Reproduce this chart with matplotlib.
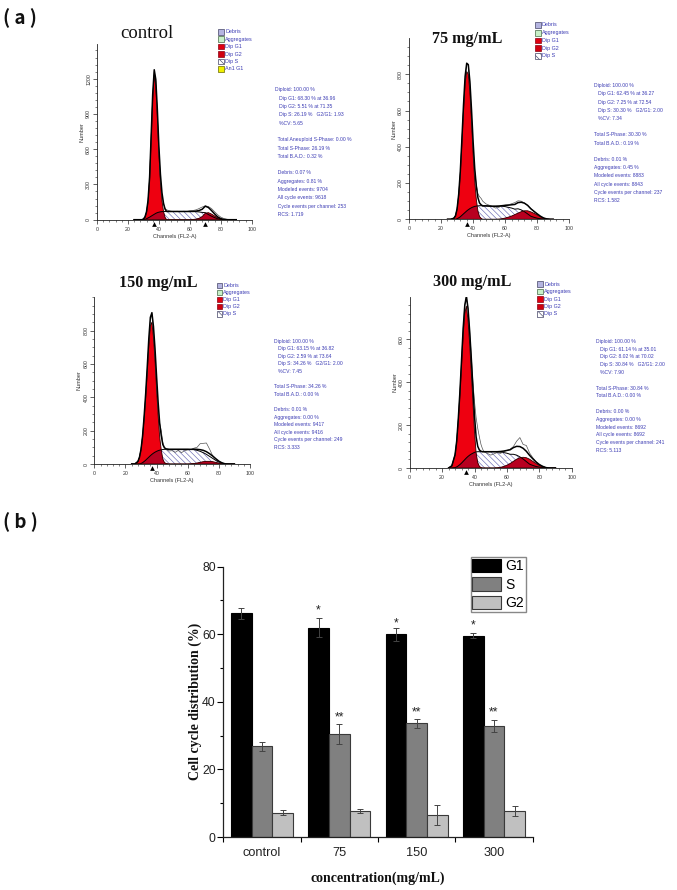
import matplotlib
matplotlib.use("Agg")
import matplotlib.pyplot as plt
import numpy as np

W, H = 677, 890
plt.rcParams['font.family'] = ['Liberation Sans', 'DejaVu Sans']
plt.rcParams['hatch.linewidth'] = 0.45

# ---------- DATA ----------
channels = [24, 26, 28] + list(range(29, 47)) + list(range(48, 91, 2))

ctrl_g1 = [0,0,0,0,5,20,60,150,340,680,1030,1230,1140,880,560,320,160,70,20,0,0] + [0]*22
ctrl_s = [0,0,0,0,0,3,8,15,22,30,38,46,54,60,64,67,69,70,70,70,70,
          70,70,70,70,70,70,70,69,68,66,62,60,44,30,18,8,3,0,0,0,0,0]
ctrl_g2 = [0]*21 + [0,0,0,0,0,0,0,2,5,12,27,55,60,48,32,16,6,2,0,0,0,0]
ctrl_raw = [0,0,0,0,8,25,65,160,350,700,1050,1260,1180,900,590,350,200,130,95,85,78,
            72,70,72,68,72,70,76,78,84,95,108,118,112,95,68,42,22,10,4,1,0,0]

d75_g1 = [0,0,6,19,55,130,250,420,600,750,815,800,700,540,360,210,110,45,15,5,0] + [0]*22
d75_s = [0,0,0,0,3,8,14,22,30,38,46,53,59,64,68,71,73,74,75,75,74,
         74,73,72,72,72,72,70,66,62,56,58,52,42,30,17,11,6,3,1,0,0,0]
d75_g2 = [0]*21 + [0,0,0,0,1,3,7,12,18,26,34,42,47,47,41,33,24,14,6,2,0,0]
d75_raw = [0,0,8,22,58,135,255,430,615,770,860,850,740,575,395,265,190,140,125,115,100,
           85,78,70,62,66,74,78,80,86,92,102,100,90,76,60,42,28,16,7,2,0,0]

d150_g1 = [0,0,15,40,85,160,270,400,550,710,830,850,760,620,450,290,160,85,30,10,3] + [0]*22
d150_s = [0,0,0,0,3,8,15,23,32,41,50,58,65,71,76,80,83,85,87,88,88,
          88,88,88,88,88,88,88,87,86,82,76,68,58,46,34,22,12,5,1,0,0,0]
d150_g2 = [0]*21 + [0,0,0,0,0,0,0,1,3,6,10,14,16,16,14,10,5,2,0,0,0,0]
d150_raw = [0,0,16,42,90,170,280,410,565,730,860,900,800,650,480,330,245,200,130,100,88,
            78,80,70,82,68,80,85,86,95,100,122,124,126,90,50,30,16,6,2,0,0,0]

d300_g1 = [0,10,60,120,220,340,480,620,720,755,690,580,450,310,170,70,25,8,2,0,0] + [0]*22
d300_s = [0,0,2,5,10,16,23,31,39,47,54,60,65,69,73,75,76,76,76,76,76,
          76,76,76,75,74,72,69,64,64,60,52,42,30,18,12,7,4,2,0,0,0,0]
d300_g2 = [0]*21 + [0,0,0,1,3,7,13,21,31,41,48,50,48,41,31,21,12,6,2,0,0,0]
d300_raw = [0,12,64,126,230,355,500,650,760,795,745,640,525,405,310,235,185,145,110,88,75,
            68,60,66,72,68,76,82,88,100,125,142,110,105,70,48,30,17,8,3,0,0,0]

ctrl_text = ["Diploid: 100.00 %", "   Dip G1: 68.30 % at 36.96", "   Dip G2: 5.51 % at 71.35",
             "   Dip S: 26.19 %   G2/G1: 1.93", "   %CV: 5.65", "",
             "  Total Aneuploid S-Phase: 0.00 %", "  Total S-Phase: 26.19 %", "  Total B.A.D.: 0.32 %", "",
             "  Debris: 0.07 %", "  Aggregates: 0.81 %", "  Modeled events: 9704", "  All cycle events: 9618",
             "  Cycle events per channel: 253", "  RCS: 1.719"]
d75_text = ["Diploid: 100.00 %", "   Dip G1: 62.45 % at 36.27", "   Dip G2: 7.25 % at 72.54",
            "   Dip S: 30.30 %   G2/G1: 2.00", "   %CV: 7.34", "",
            "Total S-Phase: 30.30 %", "Total B.A.D.: 0.19 %", "",
            "Debris: 0.01 %", "Aggregates: 0.45 %", "Modeled events: 8883", "All cycle events: 8843",
            "Cycle events per channel: 237", "RCS: 1.582"]
d150_text = ["Diploid: 100.00 %", "   Dip G1: 63.15 % at 36.82", "   Dip G2: 2.59 % at 73.64",
             "   Dip S: 34.26 %   G2/G1: 2.00", "   %CV: 7.45", "",
             "Total S-Phase: 34.26 %", "Total B.A.D.: 0.00 %", "",
             "Debris: 0.01 %", "Aggregates: 0.00 %", "Modeled events: 9417", "All cycle events: 9416",
             "Cycle events per channel: 249", "RCS: 3.333"]
d300_text = ["Diploid: 100.00 %", "   Dip G1: 61.14 % at 35.01", "   Dip G2: 8.02 % at 70.02",
             "   Dip S: 30.84 %   G2/G1: 2.00", "   %CV: 7.90", "",
             "Total S-Phase: 30.84 %", "Total B.A.D.: 0.00 %", "",
             "Debris: 0.00 %", "Aggregates: 0.00 %", "Modeled events: 8692", "All cycle events: 8692",
             "Cycle events per channel: 241", "RCS: 5.113"]

legend_base = ["Debris", "Aggregates", "Dip G1", "Dip G2", "Dip S"]
legend_ctrl = legend_base + ["An1 G1"]

categories = ["control", "75", "150", "300"]
g1_vals = [66.2, 62.0, 60.0, 59.6]
s_vals = [26.8, 30.4, 33.6, 32.9]
g2_vals = [7.2, 7.6, 6.6, 7.6]
g1_err = [1.7, 2.8, 1.9, 0.8]
s_err = [1.2, 3.0, 1.2, 1.8]
g2_err = [0.7, 0.6, 3.0, 1.5]
star_g1_y = [67.0, 63.3, 62.6]
star_s_y = [35.4, 36.9, 36.9]

# ---------- LAYOUT ----------
fig = plt.figure(figsize=(W / 100, H / 100), dpi=100, facecolor='white')
BLUE = '#3c3cb4'
SERIF = ['Liberation Serif', 'DejaVu Serif']


def px_axes(x0, x1, y_top, y_bot):
    return fig.add_axes([x0 / W, 1 - y_bot / H, (x1 - x0) / W, (y_bot - y_top) / H])


def ftext(x, y, s, **kw):
    return fig.text(x / W, 1 - y / H, s, **kw)


panels = [
    dict(box=(97, 251.7, 44, 219.7), ymax=1495, yt=[0, 300, 600, 900, 1200], ym=60,
         g1=ctrl_g1, s=ctrl_s, g2=ctrl_g2, raw=ctrl_raw, marks=[37, 70],
         title="control", tx=147, ty=34, tw='normal', ts=13.5,
         text=ctrl_text, tpos=(275, 90, 8.3), leg=legend_ctrl,
         lpos=(218, 225.3, 31.7, 7.45)),
    dict(box=(409, 569.3, 38, 219.3), ymax=1000, yt=[0, 200, 400, 600, 800], ym=50,
         g1=d75_g1, s=d75_s, g2=d75_g2, raw=d75_raw, marks=[36.3],
         title="75 mg/mL", tx=467, ty=39, tw='bold', ts=11.6,
         text=d75_text, tpos=(594, 85.7, 8.2), leg=legend_base,
         lpos=(535, 542, 25, 7.75)),
    dict(box=(94.3, 250, 297, 464), ymax=1002, yt=[0, 200, 400, 600, 800], ym=50,
         g1=d150_g1, s=d150_s, g2=d150_g2, raw=d150_raw, marks=[36.8],
         title="150 mg/mL", tx=158, ty=283, tw='bold', ts=11.6,
         text=d150_text, tpos=(273.7, 341, 7.6), leg=legend_base,
         lpos=(216.7, 223.3, 285.3, 7.1)),
    dict(box=(409.7, 571.7, 296.7, 468), ymax=799, yt=[0, 200, 400, 600], ym=40,
         g1=d300_g1, s=d300_s, g2=d300_g2, raw=d300_raw, marks=[35],
         title="300 mg/mL", tx=472, ty=282, tw='bold', ts=11.6,
         text=d300_text, tpos=(596, 341.3, 7.8), leg=legend_base,
         lpos=(537, 544.3, 284.3, 7.35)),
]

legend_styles = {
    "Debris": dict(facecolor='#b4b4e0', edgecolor='#444466'),
    "Aggregates": dict(facecolor='#c8f0c8', edgecolor='#446644'),
    "Dip G1": dict(facecolor='#e00010', edgecolor='#880010'),
    "Dip G2": dict(facecolor='#d00010', edgecolor='#880010'),
    "Dip S": dict(facecolor='white', edgecolor='#444466', hatch='\\\\\\\\\\'),
    "An1 G1": dict(facecolor='#f0f000', edgecolor='#666600'),
}

for p in panels:
    x0, x1, yt, yb = p['box']
    ax = px_axes(x0, x1, yt, yb)
    ax.patch.set_alpha(0)
    x = np.array(channels, float)
    g1, s, g2, raw = (np.array(p[k], float) for k in ('g1', 's', 'g2', 'raw'))
    total = g1 + s + g2
    ax.fill_between(x, 0, s, facecolor='white', edgecolor='#6a6ab4', hatch='\\\\\\\\\\\\', lw=0)
    ax.fill_between(x, 0, g1, facecolor='#ee0010', lw=0)
    ax.fill_between(x, 0, g2, facecolor='#d80018', lw=0)
    ax.fill_between(x, 0, np.minimum(g1, s), facecolor='#b80020', lw=0)
    ax.fill_between(x, 0, np.minimum(g2, s), facecolor='#b80020', lw=0)
    ax.plot(x, s, color='black', lw=0.7)
    ax.plot(x, g1, color='#300000', lw=0.6)
    ax.plot(x, g2, color='#300000', lw=0.6)
    ax.plot(x, raw, color='#555555', lw=0.5)
    ax.plot(x, total, color='black', lw=1.1)
    ax.set_xlim(0, 100)
    ax.set_ylim(0, p['ymax'])
    for sp in ('top', 'right'):
        ax.spines[sp].set_visible(False)
    for sp in ('left', 'bottom'):
        ax.spines[sp].set_linewidth(0.6)
        ax.spines[sp].set_color('#222222')
    ax.set_xticks(range(0, 101, 20))
    ax.set_xticks(range(0, 101, 4), minor=True)
    ax.set_yticks(p['yt'])
    ax.set_yticks(np.arange(0, p['ymax'], p['ym']), minor=True)
    ax.tick_params(axis='x', which='major', length=3, width=0.5, labelsize=3.8,
                   pad=2, labelcolor='#333333', color='#222222')
    ax.tick_params(axis='y', which='major', length=3, width=0.5, labelsize=3.8,
                   pad=1.2, labelcolor='#333333', color='#222222')
    ax.tick_params(axis='both', which='minor', length=1.5, width=0.4, color='#222222')
    for lab in ax.get_yticklabels():
        lab.set_rotation(90)
        lab.set_va('center')
    width, height = x1 - x0, yb - yt
    ax.set_xlabel("Channels (FL2-A)", fontsize=4, color='#333333', labelpad=1.5)
    ax.set_ylabel("Number", fontsize=4, color='#333333')
    ax.yaxis.set_label_coords(-12.5 / width, 0.5)
    ax.plot(p['marks'], [-4.2 / height] * len(p['marks']), '^', color='black', ms=3.4, mew=0,
            transform=ax.get_xaxis_transform(), clip_on=False)

    ftext(p['tx'], p['ty'], p['title'], family=SERIF, fontsize=p['ts'], fontweight=p['tw'],
          ha='center', va='center', color='#111111')

    tx, ty, lh = p['tpos']
    for i, line in enumerate(p['text']):
        if line:
            ftext(tx, ty + i * lh, line, fontsize=3.6, color=BLUE, va='center', ha='left')

    bx, lx, ly, ls = p['lpos']
    for i, name in enumerate(p['leg']):
        yc = ly + i * ls
        rect = plt.Rectangle((bx / W, 1 - (yc + 2.8) / H), 5.6 / W, 5.6 / H,
                             transform=fig.transFigure, lw=0.5, **legend_styles[name])
        fig.add_artist(rect)
        ftext(lx, yc, name, fontsize=3.9, color=BLUE, va='center', ha='left')

# panel letters
LETTER = ['Noto Sans CJK SC', 'DejaVu Sans']
ftext(3, 18, "( a )", family=LETTER, fontsize=13.5, fontweight='bold',
      va='center', ha='left', color='#111111')
ftext(3, 522, "( b )", family=LETTER, fontsize=13.5, fontweight='bold',
      va='center', ha='left', color='#111111')

# ---------- BAR CHART ----------
ax = px_axes(223.3, 532.7, 566.7, 837)
ax.patch.set_alpha(0)
idx = np.arange(len(categories))
bw = 0.267
ekw = dict(ecolor='#444444', elinewidth=0.7, capsize=2.2, capthick=0.7)
edge = '#3a3a3a'
ax.bar(idx - bw, g1_vals, bw, yerr=g1_err, color='black', edgecolor='black', lw=0.8, label='G1', error_kw=ekw)
ax.bar(idx, s_vals, bw, yerr=s_err, color='#808080', edgecolor=edge, lw=0.8, label='S', error_kw=ekw)
ax.bar(idx + bw, g2_vals, bw, yerr=g2_err, color='#c0c0c0', edgecolor=edge, lw=0.8, label='G2', error_kw=ekw)

ax.set_xlim(-0.5, 3.5)
ax.set_ylim(0, 80)
for sp in ('top', 'right'):
    ax.spines[sp].set_visible(False)
for sp in ('left', 'bottom'):
    ax.spines[sp].set_linewidth(0.9)
    ax.spines[sp].set_color('#222222')
ax.set_xticks(np.arange(-0.5, 3.6, 1))
ax.set_xticklabels([])
ax.set_xticks(idx, minor=True)
ax.set_xticklabels(categories, minor=True, fontsize=9.2, color='#222222')
ax.tick_params(axis='x', which='major', length=3.5, width=0.8)
ax.tick_params(axis='x', which='minor', length=0, pad=7.5)
ax.set_yticks(range(0, 81, 20))
ax.set_yticks(range(0, 81, 10), minor=True)
ax.tick_params(axis='y', which='major', length=4.5, width=0.8, labelsize=8.8, labelcolor='#222222', pad=1)
ax.tick_params(axis='y', which='minor', length=2.5, width=0.8)
ax.set_xlabel("concentration(mg/mL)", family=SERIF, fontsize=10, fontweight='bold', color='#111111', labelpad=9)
ax.set_ylabel("Cell cycle distribution (%)", family=SERIF, fontsize=10, fontweight='bold', color='#111111', labelpad=0)

for i, yv in zip(idx[1:], star_g1_y):
    ax.text(i - bw, yv, "*", ha='center', va='center', fontsize=8.8, color='#222222')
for i, yv in zip(idx[1:], star_s_y):
    ax.text(i, yv, "**", ha='center', va='center', fontsize=8.8, color='#222222')

leg = ax.legend(loc='upper right', bbox_to_anchor=(525.5 / W, 1 - 557 / H), bbox_transform=fig.transFigure,
                fontsize=10, frameon=True, fancybox=False, edgecolor='#888888', framealpha=1,
                borderaxespad=0, borderpad=0.12, handlelength=2.05, handleheight=1.1,
                handletextpad=0.3, labelspacing=0.3)
leg.get_frame().set_linewidth(1.0)

fig.savefig("out.png", dpi=100)
